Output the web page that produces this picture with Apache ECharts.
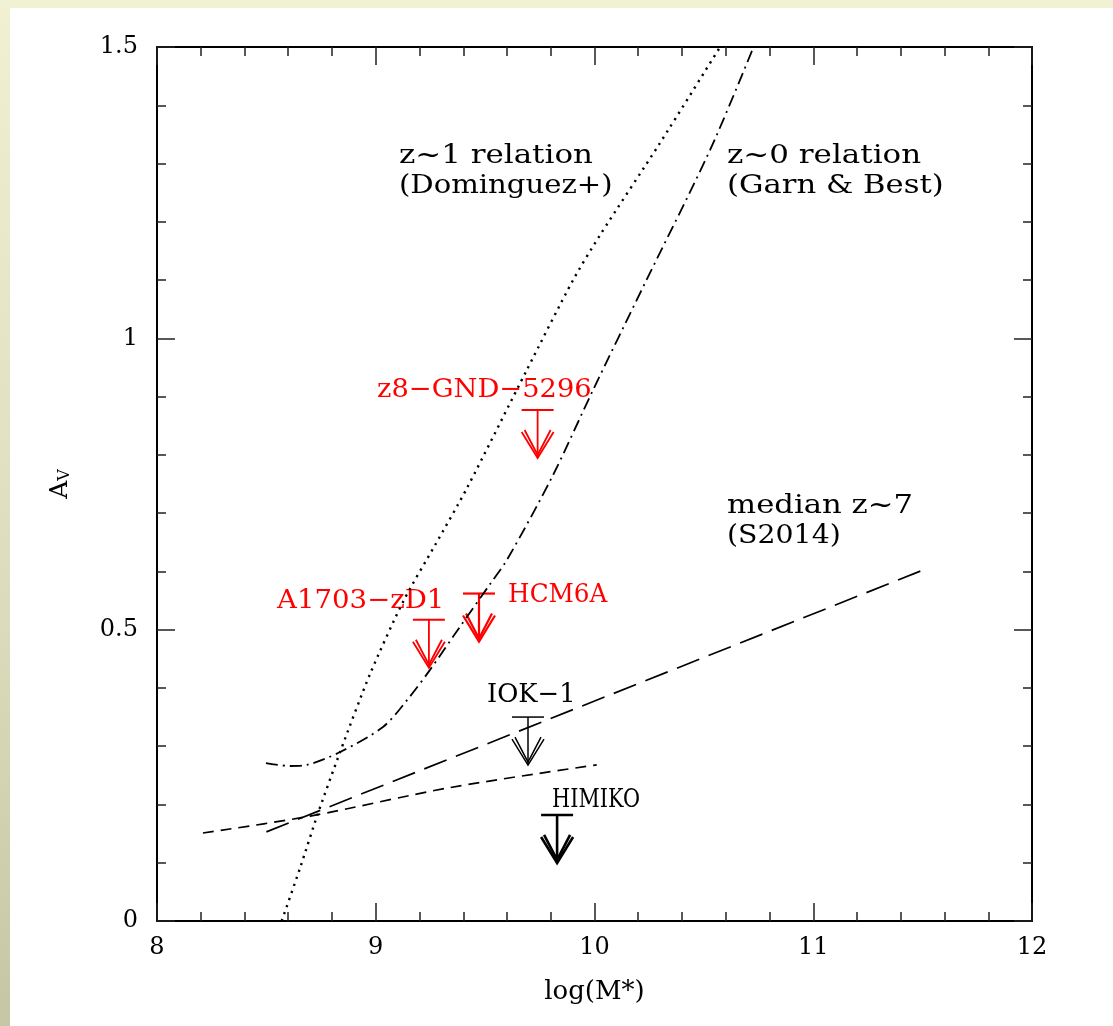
<!DOCTYPE html>
<html>
<head>
<meta charset="utf-8">
<title>A_V vs stellar mass</title>
<script src="https://cdn.jsdelivr.net/npm/echarts@6/dist/echarts.min.js"></script>
<style>
  html, body { margin: 0; padding: 0; width: 1113px; height: 1026px; overflow: hidden; }
  body { background: linear-gradient(to bottom, #f1f1d1 0%, #dcdcbc 60%, #c6c6a4 100%); position: relative; }
  #topband { position: absolute; left: 0; top: 0; width: 1113px; height: 8px; background: #f1f1d3; }
  #panel { position: absolute; left: 10px; top: 8px; width: 1103px; height: 1018px; background: #ffffff; }
  #chart { position: absolute; left: 0; top: 0; width: 1113px; height: 1026px; }
</style>
</head>
<body>
<div id="topband"></div>
<div id="panel"></div>
<div id="chart"></div>
<script>
// z~1 relation (Dominguez+), dotted
const dominguezMass = [8.570, 8.654, 8.736, 8.837, 8.974, 9.129, 9.271, 9.417, 9.691, 9.902, 10.025, 10.299, 10.574];
const dominguezAv   = [0.000, 0.091, 0.185, 0.290, 0.424, 0.551, 0.645, 0.743, 0.946, 1.100, 1.177, 1.335, 1.500];

// z~0 relation (Garn & Best), dash-dot
const garnBestMass = [8.498, 8.608, 8.686, 8.837, 9.033, 9.143, 9.248, 9.385, 9.522, 9.600, 9.806, 9.993, 10.231, 10.528, 10.725];
const garnBestAv   = [0.271, 0.266, 0.268, 0.290, 0.333, 0.379, 0.431, 0.505, 0.578, 0.620, 0.762, 0.911, 1.095, 1.323, 1.498];

// median z~7 (S2014), long dashes
const medianMass = [8.5, 11.5];
const medianAv   = [0.153, 0.602];

// short-dashed relation
const shortDashMass = [8.21, 8.70, 9.34, 10.01];
const shortDashAv   = [0.151, 0.180, 0.229, 0.268];

// upper limits on A_V
const limitNames = ['z8-GND-5296', 'A1703-zD1', 'HCM6A', 'IOK-1', 'HIMIKO'];
const limitMass  = [9.740, 9.243, 9.472, 9.696, 9.829];
const limitAv    = [0.877, 0.517, 0.562, 0.350, 0.182];

// text annotations, anchored in data coordinates (left edge, vertical middle)
const noteTexts = ['z~1 relation', '(Dominguez+)', 'z~0 relation', '(Garn & Best)', 'median z~7', '(S2014)',
                   'z8\u2212GND\u22125296', 'A1703\u2212zD1', 'HCM6A', 'IOK\u22121', 'HIMIKO'];
const noteMass = [9.106, 9.106, 10.606, 10.606, 10.606, 10.606, 9.006, 8.549, 9.605, 9.509, 9.806];
const noteAv   = [1.313, 1.261, 1.313, 1.261, 0.711, 0.660, 0.911, 0.549, 0.559, 0.388, 0.208];

// axis ranges and tick steps
const xRange = [8, 12];
const yRange = [0, 1.5];
const xStep = 1;
const yStep = 0.5;

const RED = '#ff0000';
const INK = '#000000';
const FONT = '"DejaVu Serif", "Liberation Serif", serif';

const limitStyle = {
  'z8-GND-5296': { color: RED, width: 1.8 },
  'A1703-zD1':   { color: RED, width: 1.8 },
  'HCM6A':       { color: RED, width: 2.2 },
  'IOK-1':       { color: INK, width: 1.5 },
  'HIMIKO':      { color: INK, width: 2.6 }
};
const noteColor = [INK, INK, INK, INK, INK, INK, RED, RED, RED, INK, INK];
const noteScale = [1.19, 1.12, 1.19, 1.18, 1.18, 1.09, 1.05, 1.06, 0.95, 0.99, 0.8];

const zip = (xs, ys) => xs.map((x, i) => [x, ys[i]]);

function frameAxis(pos, withLabels, step, range, extra) {
  const ax = {
    type: 'value',
    position: pos,
    min: range[0],
    max: range[1],
    interval: step,
    axisLine: { show: true, onZero: false, lineStyle: { color: INK, width: 2 } },
    axisTick: { show: true, inside: true, length: 18, lineStyle: { color: '#222', width: 1.5 } },
    minorTick: { show: true, splitNumber: 5, length: 9, lineStyle: { color: '#222', width: 1.5 } },
    splitLine: { show: false },
    minorSplitLine: { show: false },
    axisLabel: { show: withLabels, color: INK, fontFamily: FONT, fontSize: 24 }
  };
  return Object.assign(ax, extra || {});
}

const chart = echarts.init(document.getElementById('chart'), null, { renderer: 'canvas' });

const option = {
  backgroundColor: 'transparent',
  animation: false,
  grid: { left: 157, right: 81, top: 47, bottom: 105, containLabel: false },
  xAxis: [
    frameAxis('bottom', true, xStep, xRange, {
      name: 'log(M*)', nameLocation: 'middle', nameGap: 58,
      nameTextStyle: { color: INK, fontFamily: FONT, fontSize: 26 },
      axisLabel: { show: true, color: INK, fontFamily: FONT, fontSize: 24, margin: 15 }
    }),
    frameAxis('top', false, xStep, xRange)
  ],
  yAxis: [
    frameAxis('left', true, yStep, yRange, {
      name: '{a|A}{v|V}', nameLocation: 'middle', nameGap: 84, nameRotate: 90,
      nameTextStyle: {
        color: INK, fontFamily: FONT,
        rich: {
          a: { fontFamily: FONT, fontSize: 25, lineHeight: 25, padding: [0, 0, 10, 0], verticalAlign: 'top', color: INK },
          v: { fontFamily: FONT, fontSize: 16, lineHeight: 16, verticalAlign: 'bottom', color: INK }
        }
      },
      axisLabel: { show: true, color: INK, fontFamily: FONT, fontSize: 24, margin: 19,
                   formatter: v => String(v) }
    }),
    frameAxis('right', false, yStep, yRange)
  ],
  series: [
    {
      name: 'z~1 relation', type: 'line', data: zip(dominguezMass, dominguezAv),
      showSymbol: false, smooth: 0.25, clip: true,
      lineStyle: { color: INK, width: 2.4, type: [2.2, 5.2] }
    },
    {
      name: 'z~0 relation', type: 'line', data: zip(garnBestMass, garnBestAv),
      showSymbol: false, smooth: 0.3, clip: true,
      lineStyle: { color: INK, width: 1.8, type: [12, 5, 2, 5] }
    },
    {
      name: 'median z~7', type: 'line', data: zip(medianMass, medianAv),
      showSymbol: false, clip: true,
      lineStyle: { color: INK, width: 1.7, type: [24, 10] }
    },
    {
      name: 'short dashes', type: 'line', data: zip(shortDashMass, shortDashAv),
      showSymbol: false, smooth: 0.3, clip: true,
      lineStyle: { color: INK, width: 1.7, type: [11, 7] }
    },
    {
      name: 'upper limits', type: 'custom', clip: false,
      data: limitNames.map((n, i) => [limitMass[i], limitAv[i], i]),
      renderItem: function (params, api) {
        const p = api.coord([api.value(0), api.value(1)]);
        const st = limitStyle[limitNames[api.value(2)]];
        const bar = 16, len = 48, armX = 16, armY = 26;
        const tipX = p[0], tipY = p[1] + len;
        const s = { stroke: st.color, lineWidth: st.width, fill: null, lineJoin: 'miter' };
        return {
          type: 'group',
          children: [
            { type: 'line', shape: { x1: p[0] - bar, y1: p[1], x2: p[0] + bar, y2: p[1] }, style: s },
            { type: 'line', shape: { x1: p[0], y1: p[1], x2: tipX, y2: tipY }, style: s },
            { type: 'polyline', shape: { points: [[tipX - armX, tipY - armY], [tipX, tipY], [tipX + armX, tipY - armY]] }, style: s },
            { type: 'polyline', shape: { points: [[tipX - armX + 3, tipY - armY - 2], [tipX, tipY - 3], [tipX + armX - 3, tipY - armY - 2]] }, style: s }
          ]
        };
      }
    },
    {
      name: 'notes', type: 'custom', clip: false,
      data: noteTexts.map((t, i) => [noteMass[i], noteAv[i], i]),
      renderItem: function (params, api) {
        const i = api.value(2);
        const p = api.coord([api.value(0), api.value(1)]);
        return {
          type: 'text',
          x: p[0], y: p[1],
          scaleX: noteScale[i],
          style: {
            text: noteTexts[i],
            fill: noteColor[i],
            fontFamily: FONT,
            fontSize: 26,
            align: 'left',
            verticalAlign: 'middle'
          }
        };
      }
    }
  ]
};

chart.setOption(option);
</script>
</body>
</html>
